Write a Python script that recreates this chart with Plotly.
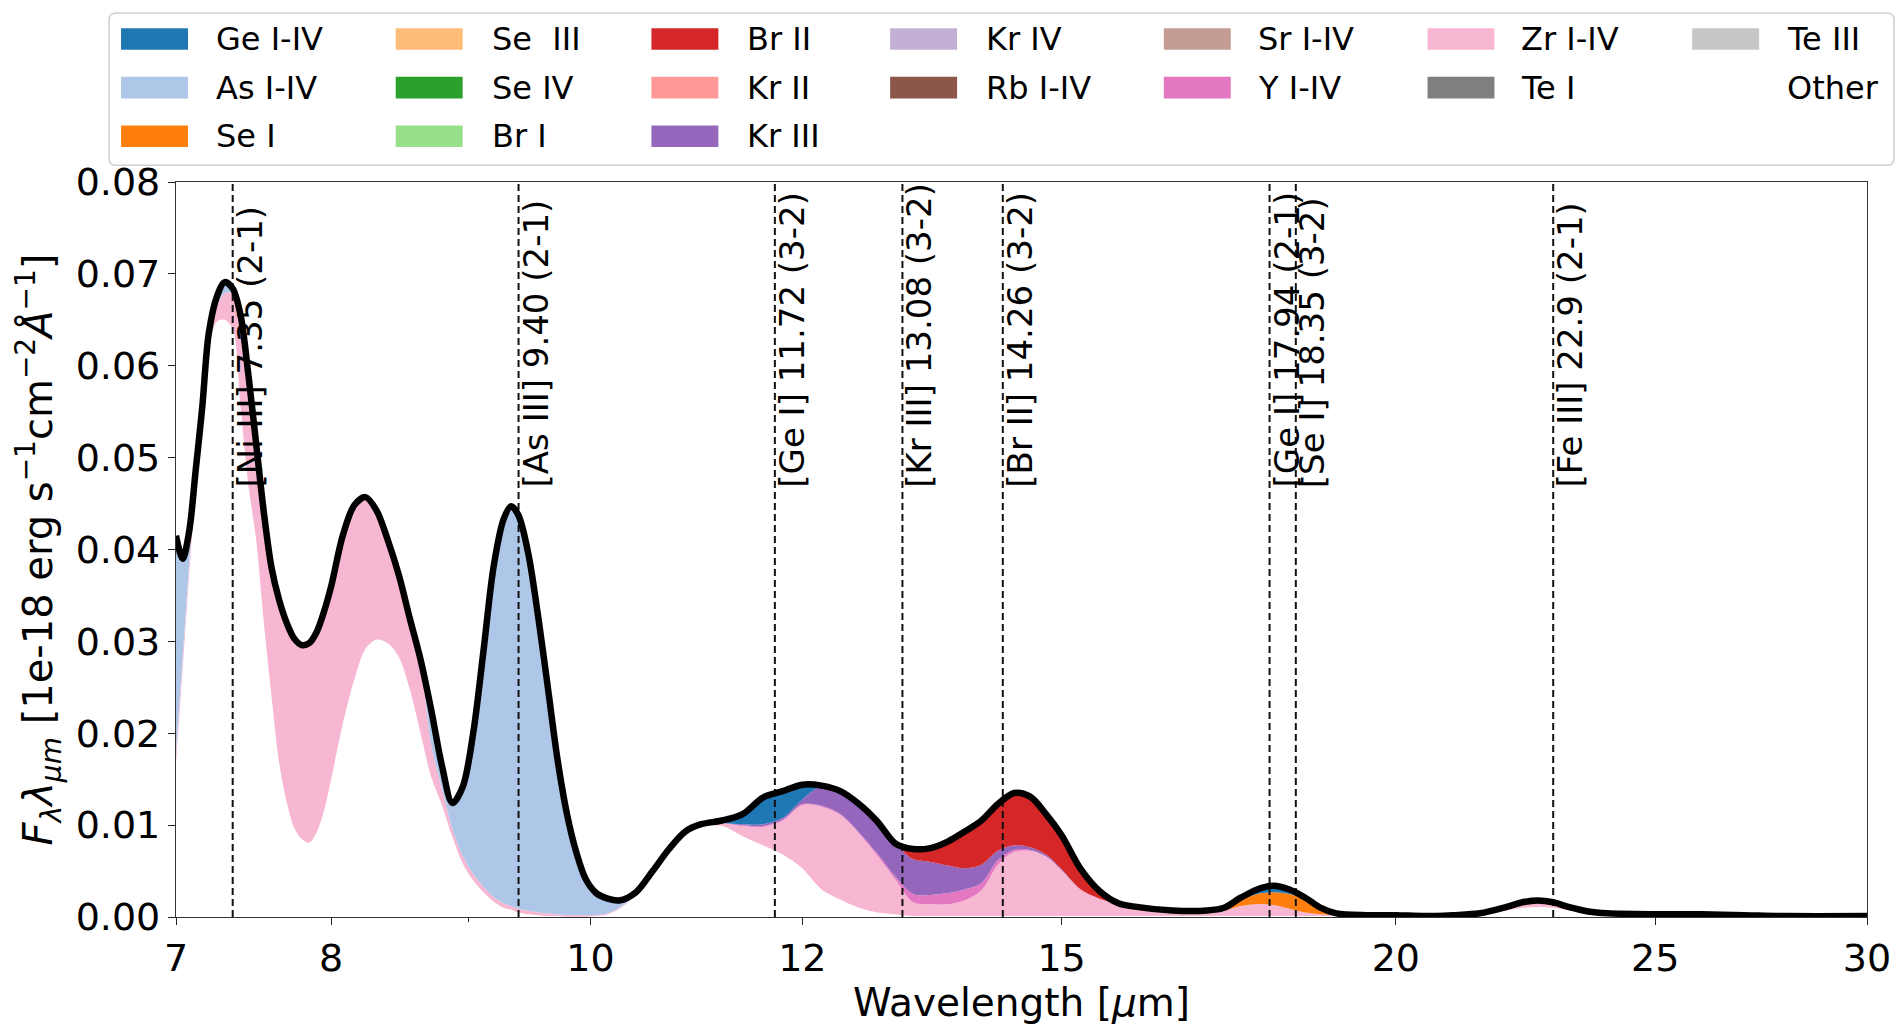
import math
import plotly.graph_objects as go

# Wavelength grid (micron) shared by all stacked contributions
WAVELENGTH_UM = [
    7.00, 7.04, 7.08, 7.12, 7.16, 7.20, 7.25, 7.30, 7.35, 7.40,
    7.45, 7.50, 7.55, 7.60, 7.65, 7.70, 7.75, 7.80, 7.85, 7.90,
    7.95, 8.00, 8.08, 8.16, 8.24, 8.32, 8.40, 8.48, 8.56, 8.64,
    8.72, 8.80, 8.88, 8.96, 9.04, 9.12, 9.20, 9.28, 9.34, 9.40,
    9.48, 9.56, 9.64, 9.72, 9.80, 9.88, 9.96, 10.05, 10.15, 10.25,
    10.40, 10.55, 10.70, 10.85, 11.00, 11.20, 11.40, 11.60, 11.80, 12.00,
    12.20, 12.40, 12.60, 12.80, 13.00, 13.20, 13.40, 13.60, 13.80, 14.00,
    14.20, 14.40, 14.60, 14.80, 15.00, 15.25, 15.50, 15.75, 16.00, 16.50,
    17.00, 17.25, 17.50, 17.75, 18.00, 18.25, 18.50, 18.75, 19.00, 19.50,
    20.00, 20.50, 21.00, 21.50, 22.00, 22.30, 22.60, 22.90, 23.20, 23.60,
    24.00, 25.00, 26.00, 27.00, 28.00, 30.00,
]

# Flux contributions, F_lambda * lambda [1e-18 erg s^-1 cm^-2 A^-1]
OTHER = [
    .0168, .0270, .0373, .0470, .0540, .0617, .0648, .0650, .0640, .0555,
    .0470, .0410, .0320, .0240, .0168, .0125, .0097, .0085, .0081, .0092,
    .0115, .0150, .0210, .0258, .0292, .0302, .0298, .0283, .0248, .0200,
    .0152, .0122, .0087, .0058, .0040, .0027, .0017, .0010, .0008, .0005,
    .0003, .0002, .0001, .0001, .0000, .0000, .0000, .0001, .0003, .0009,
    .0024, .0049, .0073, .0092, .0100, .0099, .0088, .0078, .0068, .0053,
    .0030, .0019, .0010, .0005, .0003, .0001, .0001, .0001, .0001, .0001,
    .0001, .0001, .0001, .0001, .0001, .0001, .0001, .0001, .0001, .0001,
    .0001, .0001, .0001, .0001, .0001, .0001, .0001, .0001, .0001, .0001,
    .0001, .0001, .0001, .0003, .0007, .0010, .0011, .0010, .0007, .0004,
    .0003, .0002, .0002, .0001, .0001, .0001,
]
ZR_I_IV = [
    .0012, .0012, .0012, .0012, .0012, .0013, .0017, .0029, .0039, .0100,
    .0120, .0105, .0120, .0140, .0177, .0195, .0206, .0211, .0217, .0218,
    .0217, .0210, .0205, .0190, .0165, .0140, .0112, .0089, .0077, .0078,
    .0035, .0018, .0009, .0008, .0007, .0006, .0005, .0005, .0004, .0004,
    .0004, .0003, .0003, .0002, .0002, .0002, .0002, .0001, .0001, .0001,
    .0001, .0001, .0001, .0001, .0001, .0003, .0011, .0020, .0037, .0069,
    .0090, .0092, .0081, .0062, .0038, .0015, .0013, .0013, .0017, .0028,
    .0056, .0070, .0071, .0065, .0050, .0029, .0019, .0013, .0010, .0006,
    .0006, .0006, .0011, .0013, .0012, .0008, .0004, .0002, .0001, .0001,
    .0001, .0000, .0001, .0001, .0004, .0006, .0007, .0006, .0004, .0002,
    .0001, .0001, .0001, .0001, .0000, .0000,
]
Y_I_IV = [0.0] * 56 + [
    .0001, .0001, .0001, .0001, .0001, .0001, .0001, .0002, .0003, .0009,
    .0010, .0012, .0012, .0008, .0005, .0002, .0001,
] + [0.0] * 33
KR_III = [0.0] * 56 + [
    .0001, .0002, .0002, .0005, .0021, .0025, .0031, .0035, .0036, .0038,
    .0036, .0030, .0023, .0020, .0010, .0005, .0003, .0002, .0001,
] + [0.0] * 31
BR_II = [0.0] * 65 + [
    .0011, .0015, .0026, .0040, .0048, .0051, .0057, .0055, .0044, .0037,
    .0022, .0008, .0001,
] + [0.0] * 28
SE_I = [0.0] * 81 + [
    .0002, .0006, .0011, .0014, .0016, .0014, .0007, .0002,
] + [0.0] * 17
AS_I_IV = [
    .0235, .0108, .0035, .0005, .0003, .0005, .0010, .0012, .0005, .0000,
    .0, .0, .0, .0, .0, .0, .0, .0, .0, .0,
    .0, .0, .0, .0, .0, .0, .0, .0, .0, .0002,
    .0038, .0025, .0028, .0076, .0153, .0256, .0359, .0418, .0435, .0428,
    .0388, .0322, .0246, .0169, .0110, .0068, .0039, .0024, .0016, .0008,
    .0002,
] + [0.0] * 55
GE_I_IV = [0.0] * 55 + [
    .0003, .0011, .0029, .0029, .0016, .0001,
] + [0.0] * 20 + [
    .0001, .0003, .0005, .0007, .0005, .0002,
] + [0.0] * 19

# Stacking order, bottom to top
STACK = [
    ("Other", OTHER, "#ffffff"),
    ("Zr I-IV", ZR_I_IV, "#f7b6d2"),
    ("Y I-IV", Y_I_IV, "#e377c2"),
    ("Kr III", KR_III, "#9467bd"),
    ("Br II", BR_II, "#d62728"),
    ("Se I", SE_I, "#ff7f0e"),
    ("As I-IV", AS_I_IV, "#aec7e8"),
    ("Ge I-IV", GE_I_IV, "#1f77b4"),
]

# Legend entries, laid out column by column
LEGEND_LABELS = [
    "Ge I-IV", "As I-IV", "Se I", "Se\u00a0\u00a0III", "Se IV", "Br I",
    "Br II", "Kr II", "Kr III", "Kr IV", "Rb I-IV", "Sr I-IV", "Y I-IV",
    "Zr I-IV", "Te I", "Te III", "Other",
]
LEGEND_COLORS = [
    "#1f77b4", "#aec7e8", "#ff7f0e", "#ffbb78", "#2ca02c", "#98df8a",
    "#d62728", "#ff9896", "#9467bd", "#c5b0d5", "#8c564b", "#c49c94",
    "#e377c2", "#f7b6d2", "#7f7f7f", "#c7c7c7", "#ffffff",
]
LEGEND_COLUMN_SIZES = [3, 3, 3, 2, 2, 2, 2]

# Identified emission lines
LINE_WAVELENGTHS = [7.35, 9.40, 11.72, 13.08, 14.26, 17.94, 18.35, 22.9]
LINE_LABELS = [
    "[Ni III] 7.35 (2-1)", "[As III] 9.40 (2-1)", "[Ge I] 11.72 (3-2)",
    "[Kr III] 13.08 (3-2)", "[Br II] 14.26 (3-2)", "[Ge I] 17.94 (2-1)",
    "[Se I] 18.35 (3-2)", "[Fe III] 22.9 (2-1)",
]

X_TICKS = [7, 8, 10, 12, 15, 20, 25, 30]
X_TICK_TEXT = ["7", "8", "10", "12", "15", "20", "25", "30"]
X_MINOR_TICKS = [9]
Y_TICKS = [0.00, 0.01, 0.02, 0.03, 0.04, 0.05, 0.06, 0.07, 0.08]

FONT = "DejaVu Sans"
W, H = 1903, 1025
L, R, T, B = 176, 34, 182, 95
PW, PH = W - L - R, H - T - B


def px(xp):
    return (xp - L) / PW


def py(yp):
    return (H - B - yp) / PH


fig = go.Figure()

for name, values, color in STACK:
    fig.add_trace(go.Scatter(
        x=WAVELENGTH_UM, y=values, name=name, mode="lines",
        stackgroup="ions", fillcolor=color,
        line=dict(width=0, shape="spline", smoothing=0.9, color=color),
        showlegend=False, hoverinfo="skip",
    ))

total = [sum(v[i] for _, v, _ in STACK) for i in range(len(WAVELENGTH_UM))]

for wl in LINE_WAVELENGTHS:
    fig.add_trace(go.Scatter(
        x=[wl, wl], y=[0, 0.08], mode="lines",
        line=dict(color="#111111", width=2.0, dash="7px,4px"),
        showlegend=False, hoverinfo="skip",
    ))

fig.add_trace(go.Scatter(
    x=WAVELENGTH_UM, y=total, mode="lines",
    line=dict(color="#000000", width=6.5, shape="spline", smoothing=0.9),
    showlegend=False, hoverinfo="skip",
))

annotations = []
for wl, label in zip(LINE_WAVELENGTHS, LINE_LABELS):
    annotations.append(dict(
        x=math.log10(wl), y=0.0466, xref="x", yref="y", text=label,
        textangle=-90, xanchor="left", yanchor="bottom", showarrow=False,
        xshift=-4,
        font=dict(family=FONT, size=34, color="#000000"), borderpad=0,
    ))

# Legend frame and entries
shapes = []
bx0, bx1, by0, by1, rr = 109, 1896, 10, 165, 7
rx, ry = rr / PW, rr / PH
X0, X1, Y0, Y1 = px(bx0), px(bx1), py(by1), py(by0)
path = (
    f"M {X0 + rx},{Y0} L {X1 - rx},{Y0} Q {X1},{Y0} {X1},{Y0 + ry} "
    f"L {X1},{Y1 - ry} Q {X1},{Y1} {X1 - rx},{Y1} L {X0 + rx},{Y1} "
    f"Q {X0},{Y1} {X0},{Y1 - ry} L {X0},{Y0 + ry} Q {X0},{Y0} {X0 + rx},{Y0} Z"
)
shapes.append(dict(type="path", path=path, xref="paper", yref="paper",
                   line=dict(color="#d0d0d0", width=1.5), fillcolor="rgba(255,255,255,0.8)",
                   layer="above"))

col_patch_x = [121, 396, 652, 891, 1165, 1429, 1694]
col_text_x = [214, 490, 746, 985, 1257, 1521, 1787]
row_y = [36.5, 86, 135.5]
patch_w, patch_h = 67, 22

k = 0
for c, n in enumerate(LEGEND_COLUMN_SIZES):
    for r in range(n):
        label, color = LEGEND_LABELS[k], LEGEND_COLORS[k]
        cy = row_y[r]
        shapes.append(dict(
            type="rect", xref="paper", yref="paper",
            x0=px(col_patch_x[c]), x1=px(col_patch_x[c] + patch_w),
            y0=py(cy + patch_h / 2), y1=py(cy - patch_h / 2),
            fillcolor=color, line=dict(width=0), layer="above",
        ))
        annotations.append(dict(
            x=px(col_text_x[c]), y=py(cy), xref="paper", yref="paper",
            text=label, xanchor="left", yanchor="middle", showarrow=False,
            font=dict(family=FONT, size=32, color="#000000"),
        ))
        k += 1

axis_common = dict(
    showline=True, mirror=True, linecolor="#333333", linewidth=1.3,
    ticks="outside", ticklen=7, tickwidth=1.3, tickcolor="#222222",
    showgrid=False, zeroline=False,
    tickfont=dict(family=FONT, size=38, color="#000000"),
)

fig.update_layout(
    width=W, height=H,
    margin=dict(l=L, r=R, t=T, b=B),
    paper_bgcolor="#ffffff", plot_bgcolor="#ffffff",
    showlegend=False,
    shapes=shapes, annotations=annotations,
    xaxis=dict(
        type="log", range=[math.log10(7), math.log10(30)],
        tickmode="array", tickvals=X_TICKS, ticktext=X_TICK_TEXT,
        minor=dict(tickmode="array", tickvals=X_MINOR_TICKS, ticks="outside",
                   ticklen=4, tickwidth=1.0, tickcolor="#222222", showgrid=False),
        title=dict(text="Wavelength [<i>\u03bc</i>m]",
                   font=dict(family=FONT, size=39, color="#000000"), standoff=6),
        **axis_common,
    ),
    yaxis=dict(
        range=[0, 0.08], tickvals=Y_TICKS, tickformat=".2f",
        title=dict(
            text="<i>F</i><sub><i>\u03bb</i></sub><i>\u03bb</i><sub><i>\u03bcm</i></sub>"
                 " [1e-18 erg s<sup>\u22121</sup>cm<sup>\u22122</sup><i>\u00c5</i><sup>\u22121</sup>]",
            font=dict(family=FONT, size=40, color="#000000"), standoff=10),
        **axis_common,
    ),
)

fig.write_html("out.html")
